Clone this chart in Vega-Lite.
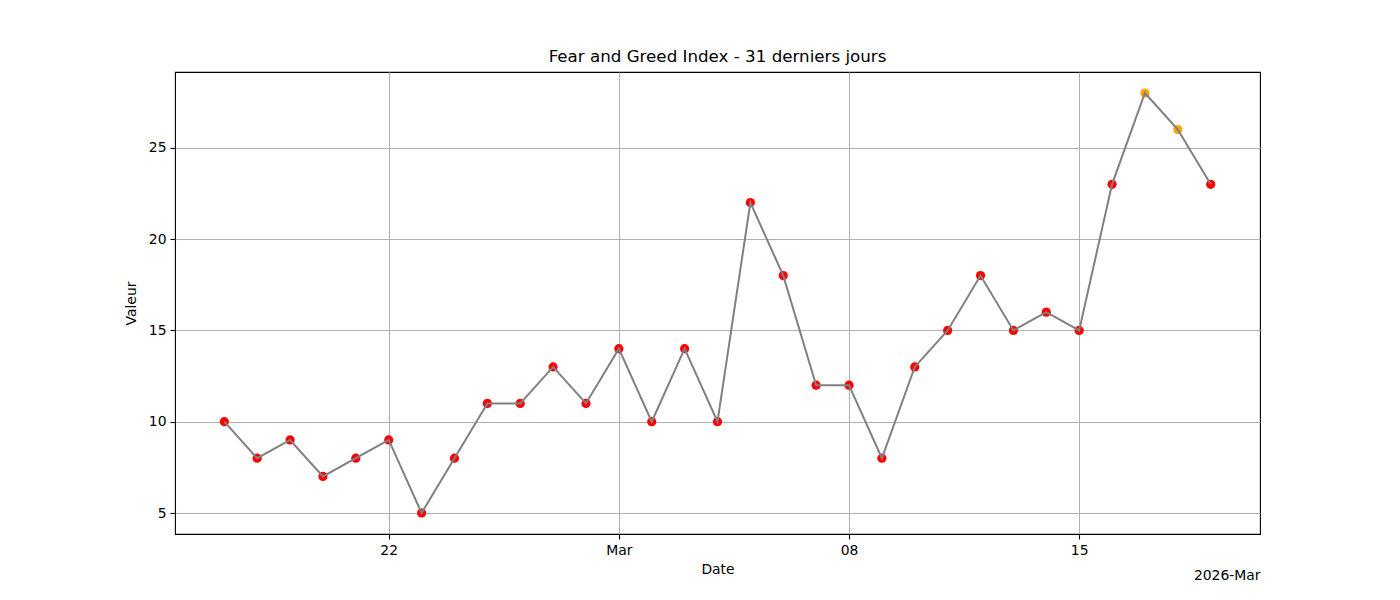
{
  "$schema": "https://vega.github.io/schema/vega-lite/v6.json",
  "title": {"text": "Fear and Greed Index - 31 derniers jours", "fontSize": 16.7, "fontWeight": "normal", "font": "DejaVu Sans", "color": "black", "offset": 6},
  "background": "white",
  "autosize": "none",
  "padding": {"left": 175, "top": 72, "right": 140, "bottom": 66},
  "width": 1085,
  "height": 462,
  "data": {
    "values": [
      {"date": "2026-02-17", "value": 10, "zone": "Extreme Fear"},
      {"date": "2026-02-18", "value": 8, "zone": "Extreme Fear"},
      {"date": "2026-02-19", "value": 9, "zone": "Extreme Fear"},
      {"date": "2026-02-20", "value": 7, "zone": "Extreme Fear"},
      {"date": "2026-02-21", "value": 8, "zone": "Extreme Fear"},
      {"date": "2026-02-22", "value": 9, "zone": "Extreme Fear"},
      {"date": "2026-02-23", "value": 5, "zone": "Extreme Fear"},
      {"date": "2026-02-24", "value": 8, "zone": "Extreme Fear"},
      {"date": "2026-02-25", "value": 11, "zone": "Extreme Fear"},
      {"date": "2026-02-26", "value": 11, "zone": "Extreme Fear"},
      {"date": "2026-02-27", "value": 13, "zone": "Extreme Fear"},
      {"date": "2026-02-28", "value": 11, "zone": "Extreme Fear"},
      {"date": "2026-03-01", "value": 14, "zone": "Extreme Fear"},
      {"date": "2026-03-02", "value": 10, "zone": "Extreme Fear"},
      {"date": "2026-03-03", "value": 14, "zone": "Extreme Fear"},
      {"date": "2026-03-04", "value": 10, "zone": "Extreme Fear"},
      {"date": "2026-03-05", "value": 22, "zone": "Extreme Fear"},
      {"date": "2026-03-06", "value": 18, "zone": "Extreme Fear"},
      {"date": "2026-03-07", "value": 12, "zone": "Extreme Fear"},
      {"date": "2026-03-08", "value": 12, "zone": "Extreme Fear"},
      {"date": "2026-03-09", "value": 8, "zone": "Extreme Fear"},
      {"date": "2026-03-10", "value": 13, "zone": "Extreme Fear"},
      {"date": "2026-03-11", "value": 15, "zone": "Extreme Fear"},
      {"date": "2026-03-12", "value": 18, "zone": "Extreme Fear"},
      {"date": "2026-03-13", "value": 15, "zone": "Extreme Fear"},
      {"date": "2026-03-14", "value": 16, "zone": "Extreme Fear"},
      {"date": "2026-03-15", "value": 15, "zone": "Extreme Fear"},
      {"date": "2026-03-16", "value": 23, "zone": "Extreme Fear"},
      {"date": "2026-03-17", "value": 28, "zone": "Fear"},
      {"date": "2026-03-18", "value": 26, "zone": "Fear"},
      {"date": "2026-03-19", "value": 23, "zone": "Extreme Fear"}
    ]
  },
  "encoding": {
    "x": {
      "field": "date",
      "type": "temporal",
      "scale": {
        "type": "utc",
        "domain": [
          {"year": 2026, "month": 2, "date": 15, "hours": 12, "utc": true},
          {"year": 2026, "month": 3, "date": 20, "hours": 12, "utc": true}
        ]
      },
      "axis": {
        "title": "Date",
        "values": [
          {"year": 2026, "month": 2, "date": 22, "utc": true},
          {"year": 2026, "month": 3, "date": 1, "utc": true},
          {"year": 2026, "month": 3, "date": 8, "utc": true},
          {"year": 2026, "month": 3, "date": 15, "utc": true}
        ],
        "labelExpr": "utcdate(datum.value) == 1 ? utcFormat(datum.value, '%b') : utcFormat(datum.value, '%d')",
        "titlePadding": 6
      }
    },
    "y": {
      "field": "value",
      "type": "quantitative",
      "scale": {"domain": [3.85, 29.15], "nice": false, "zero": false},
      "axis": {"title": "Valeur", "values": [5, 10, 15, 20, 25], "titlePadding": 10}
    }
  },
  "layer": [
    {
      "mark": {"type": "point", "filled": true, "opacity": 1, "size": 85, "shape": "circle"},
      "encoding": {
        "color": {
          "field": "zone",
          "type": "nominal",
          "scale": {"domain": ["Extreme Fear", "Fear"], "range": ["red", "orange"]},
          "legend": null
        }
      }
    },
    {
      "mark": {"type": "line", "color": "gray", "strokeWidth": 2},
      "encoding": {
        "x": {"field": "date", "type": "temporal", "axis": null}
      }
    },
    {
      "mark": {"type": "point", "opacity": 0},
      "encoding": {
        "x": {
          "field": "date",
          "type": "temporal",
          "axis": {
            "title": "2026-Mar",
            "orient": "bottom",
            "labels": false,
            "ticks": false,
            "domain": false,
            "grid": false,
            "titleAnchor": "end",
            "titleAlign": "right",
            "titleY": 34
          }
        }
      }
    }
  ],
  "resolve": {"axis": {"x": "independent"}},
  "config": {
    "view": {"stroke": "black", "strokeWidth": 1.1},
    "axis": {
      "grid": true,
      "gridColor": "#b0b0b0",
      "gridWidth": 1,
      "domain": false,
      "tickColor": "black",
      "tickSize": 5,
      "tickWidth": 1.1,
      "labelFont": "DejaVu Sans",
      "labelFontSize": 13.9,
      "labelColor": "black",
      "labelPadding": 4,
      "titleFont": "DejaVu Sans",
      "titleFontSize": 13.9,
      "titleFontWeight": "normal",
      "titleColor": "black"
    }
  }
}
